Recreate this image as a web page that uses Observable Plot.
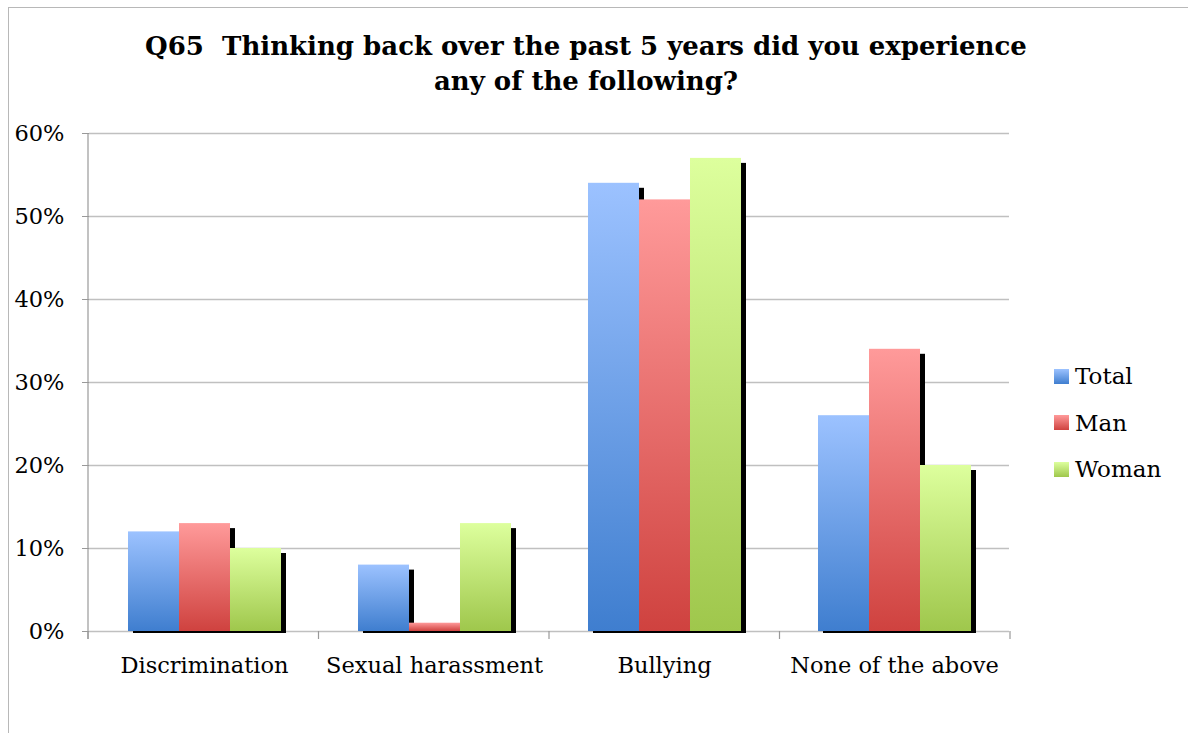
<!DOCTYPE html>
<html><head><meta charset="utf-8">
<script src="https://cdn.jsdelivr.net/npm/d3@7"></script>
<script src="https://cdn.jsdelivr.net/npm/@observablehq/plot@0.6"></script>
<style>
body{margin:0;background:#fff;}
#wrap{position:relative;width:1188px;height:733px;overflow:hidden;font-family:"DejaVu Serif",serif;color:#000;}
#frame{position:absolute;left:8px;top:7px;width:1400px;height:900px;border-left:1.5px solid #b8b8b8;border-top:1.5px solid #b8b8b8;}
#title{position:absolute;left:0;width:1172px;top:29px;text-align:center;font-weight:bold;font-size:26px;line-height:35px;}
#chart{position:absolute;left:0;top:110px;}
#legend{position:absolute;left:1054px;top:353px;font-size:23px;}
.item{display:flex;align-items:center;height:46.5px;}
.sw{width:15px;height:15px;margin-right:6px;}
#chart g[aria-label^="y-axis"] path, #chart g[aria-label^="y-axis"] line{stroke:#999;}
</style></head>
<body>
<div id="wrap">
  <div id="frame"></div>
  <div id="title">Q65&nbsp; Thinking back over the past 5 years did you experience<br>any of the following?</div>
  <div id="chart"></div>
  <div id="legend"></div>
</div>
<script>
const categories = ["Discrimination", "Sexual harassment", "Bullying", "None of the above"];
const series = ["Total", "Man", "Woman"];
const totalValues = [0.12, 0.08, 0.54, 0.26];
const manValues = [0.13, 0.01, 0.52, 0.34];
const womanValues = [0.10, 0.13, 0.57, 0.20];
const yTicks = [0, 0.1, 0.2, 0.3, 0.4, 0.5, 0.6];
const gradTop = ["#9cc2ff", "#ff9a9a", "#ddff9d"];
const gradBottom = ["#3f7ecf", "#cf423f", "#9fc74c"];

const valuesBySeries = [totalValues, manValues, womanValues];
const data = categories.flatMap((c, i) => series.map((s, j) => ({category: c, series: s, value: valuesBySeries[j][i]})));
const gradIds = series.map(s => "grad-" + s);

const plot = Plot.plot({
  width: 1188,
  height: 581,
  marginLeft: 88,
  marginRight: 178,
  marginTop: 23,
  marginBottom: 60,
  style: {fontFamily: "DejaVu Serif", fontSize: "22.5px", color: "#000", background: "transparent", overflow: "visible"},
  facet: {data, x: "category"},
  fx: {domain: categories, padding: 0, label: null, tickSize: 0, tickPadding: 26},
  x: {domain: series, axis: null, paddingInner: 0, paddingOuter: 0.73},
  y: {domain: [0, 0.6], ticks: yTicks, tickFormat: d3.format(".0%"), tickSize: 7, tickPadding: 18, label: null},
  color: {domain: series, range: gradIds.map(id => `url(#${id})`)},
  marks: [
    Plot.ruleY(yTicks, {stroke: "#c0c0c0", strokeWidth: 1.5}),
    Plot.barY(data, {x: "series", y: "value", fill: "black", dx: 5, dy: 5, insetBottom: 3}),
    Plot.barY(data, {x: "series", y: "value", fill: "series"})
  ]
});

const svg = d3.select(plot);
const defs = svg.insert("defs", ":first-child");
series.forEach((s, j) => {
  const g = defs.append("linearGradient").attr("id", gradIds[j]).attr("x1", 0).attr("y1", 0).attr("x2", 0).attr("y2", 1);
  g.append("stop").attr("offset", "0%").attr("stop-color", gradTop[j]);
  g.append("stop").attr("offset", "100%").attr("stop-color", gradBottom[j]);
});

// axis chrome: y-axis line and category boundary ticks
const fx = plot.scale("fx");
const ys = plot.scale("y");
const y0 = ys.apply(0), yTop = ys.apply(0.6);
const [r0, r1] = fx.range;
const step = (r1 - r0) / fx.domain.length;
const chrome = svg.append("g").attr("stroke", "#999").attr("stroke-width", 1.2);
chrome.append("line").attr("x1", r0).attr("x2", r0).attr("y1", yTop).attr("y2", y0 + 8);
d3.range(fx.domain.length + 1).forEach(i => {
  const x = r0 + i * step;
  chrome.append("line").attr("x1", x).attr("x2", x).attr("y1", y0).attr("y2", y0 + 8);
});

document.getElementById("chart").appendChild(plot);

// legend
const legend = d3.select("#legend");
series.forEach((s, j) => {
  const item = legend.append("div").attr("class", "item");
  item.append("div").attr("class", "sw").style("background", `linear-gradient(${gradTop[j]}, ${gradBottom[j]})`);
  item.append("span").text(s);
});
</script>
</body></html>
